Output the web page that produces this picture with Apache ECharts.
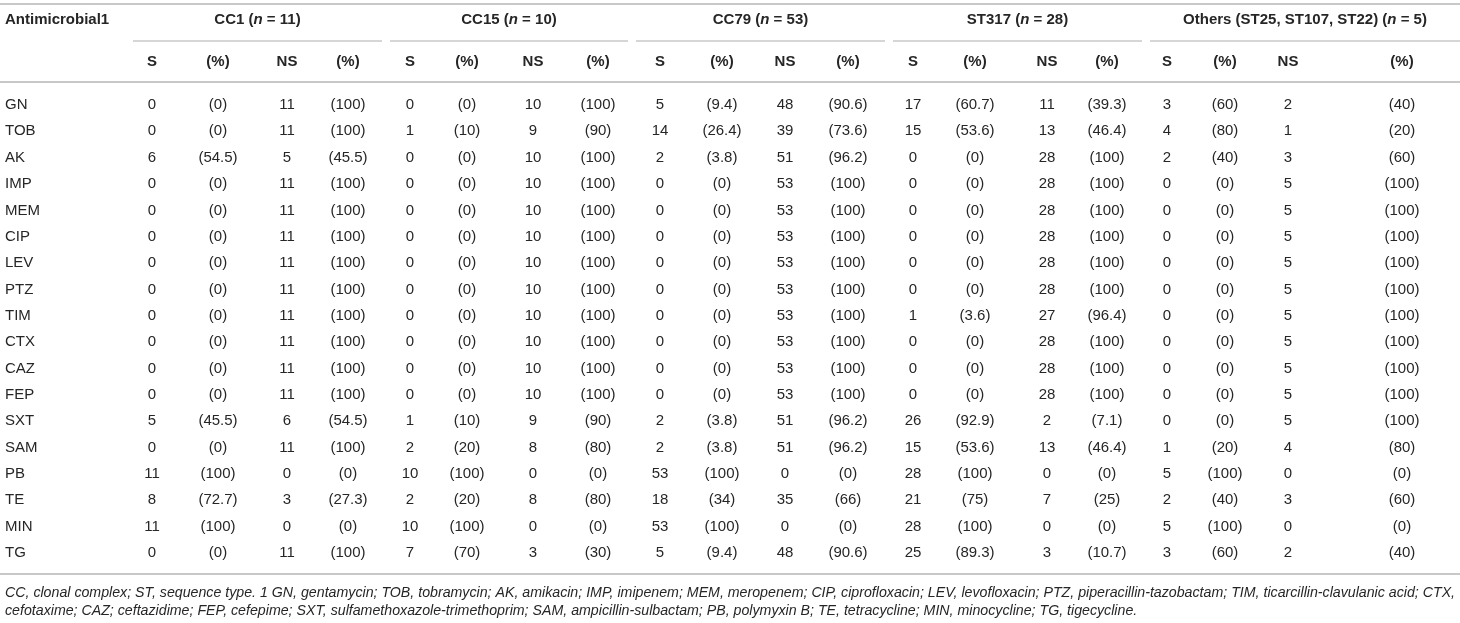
<!DOCTYPE html>
<html><head><meta charset="utf-8">
<script src="https://cdn.jsdelivr.net/npm/echarts@6/dist/echarts.min.js"></script>
<style>html,body{margin:0;padding:0;background:#fff}#c{width:1460px;height:623px}</style>
</head><body><div id="c"></div>
<script>
// ---------- DATA ----------
const antimicrobials = ['GN','TOB','AK','IMP','MEM','CIP','LEV','PTZ','TIM','CTX','CAZ','FEP','SXT','SAM','PB','TE','MIN','TG'];
const groupNames = ['CC1','CC15','CC79','ST317','Others (ST25, ST107, ST22)'];
const groupN = [11, 10, 53, 28, 5];
const subHeaders = ['S','(%)','NS','(%)'];
const firstHeader = 'Antimicrobial1';

const cc1S     = [0,0,6,0,0,0,0,0,0,0,0,0,5,0,11,8,11,0];
const cc1SPct  = ['0','0','54.5','0','0','0','0','0','0','0','0','0','45.5','0','100','72.7','100','0'];
const cc1NS    = [11,11,5,11,11,11,11,11,11,11,11,11,6,11,0,3,0,11];
const cc1NSPct = ['100','100','45.5','100','100','100','100','100','100','100','100','100','54.5','100','0','27.3','0','100'];

const cc15S     = [0,1,0,0,0,0,0,0,0,0,0,0,1,2,10,2,10,7];
const cc15SPct  = ['0','10','0','0','0','0','0','0','0','0','0','0','10','20','100','20','100','70'];
const cc15NS    = [10,9,10,10,10,10,10,10,10,10,10,10,9,8,0,8,0,3];
const cc15NSPct = ['100','90','100','100','100','100','100','100','100','100','100','100','90','80','0','80','0','30'];

const cc79S     = [5,14,2,0,0,0,0,0,0,0,0,0,2,2,53,18,53,5];
const cc79SPct  = ['9.4','26.4','3.8','0','0','0','0','0','0','0','0','0','3.8','3.8','100','34','100','9.4'];
const cc79NS    = [48,39,51,53,53,53,53,53,53,53,53,53,51,51,0,35,0,48];
const cc79NSPct = ['90.6','73.6','96.2','100','100','100','100','100','100','100','100','100','96.2','96.2','0','66','0','90.6'];

const st317S     = [17,15,0,0,0,0,0,0,1,0,0,0,26,15,28,21,28,25];
const st317SPct  = ['60.7','53.6','0','0','0','0','0','0','3.6','0','0','0','92.9','53.6','100','75','100','89.3'];
const st317NS    = [11,13,28,28,28,28,28,28,27,28,28,28,2,13,0,7,0,3];
const st317NSPct = ['39.3','46.4','100','100','100','100','100','100','96.4','100','100','100','7.1','46.4','0','25','0','10.7'];

const othersS     = [3,4,2,0,0,0,0,0,0,0,0,0,0,1,5,2,5,3];
const othersSPct  = ['60','80','40','0','0','0','0','0','0','0','0','0','0','20','100','40','100','60'];
const othersNS    = [2,1,3,5,5,5,5,5,5,5,5,5,5,4,0,3,0,2];
const othersNSPct = ['40','20','60','100','100','100','100','100','100','100','100','100','100','80','0','60','0','40'];

const footnoteLines = [
  'CC, clonal complex; ST, sequence type. 1 GN, gentamycin; TOB, tobramycin; AK, amikacin; IMP, imipenem; MEM, meropenem; CIP, ciprofloxacin; LEV, levofloxacin; PTZ, piperacillin-tazobactam; TIM, ticarcillin-clavulanic acid; CTX,',
  'cefotaxime; CAZ; ceftazidime; FEP, cefepime; SXT, sulfamethoxazole-trimethoprim; SAM, ampicillin-sulbactam; PB, polymyxin B; TE, tetracycline; MIN, minocycline; TG, tigecycline.'
];

// ---------- LAYOUT (positions / styles) ----------
const L = {
  W: 1460, H: 623,
  labelX: 5,
  colX: [152,218,287,348, 410,467,533,598, 660,722,785,848, 913,975,1047,1107, 1167,1225,1288,1402],
  groupSpan: [[133,382],[390,628],[636,885],[893,1142],[1150,1460]],
  headY1: 20, headY2: 62, groupLineY: 41,
  topLineY: 4, headLineY: 82, bottomLineY: 574,
  rowY0: 105, rowH: 26.35,
  footY: [593, 611],
  font: "'Liberation Sans', Arial, Helvetica, sans-serif",
  fontSize: 15, footSize: 14.2,
  text: '#262626', rule: '#c8c8c8'
};

const groupCols = [
  [cc1S, cc1SPct, cc1NS, cc1NSPct],
  [cc15S, cc15SPct, cc15NS, cc15NSPct],
  [cc79S, cc79SPct, cc79NS, cc79NSPct],
  [st317S, st317SPct, st317NS, st317NSPct],
  [othersS, othersSPct, othersNS, othersNSPct]
];

const cells = [];
antimicrobials.forEach((a, r) => {
  const y = L.rowY0 + r * L.rowH;
  cells.push([L.labelX, y, a, 'label']);
  groupCols.forEach((cols, g) => {
    cols.forEach((arr, k) => {
      const v = arr[r];
      const t = (k % 2 === 1) ? '(' + v + ')' : String(v);
      cells.push([L.colX[g * 4 + k], y, t, 'cell']);
    });
  });
});
const headers = [];
headers.push([L.labelX, L.headY1, firstHeader, 'hleft']);
groupNames.forEach((n, g) => {
  const cx = (L.groupSpan[g][0] + L.groupSpan[g][1]) / 2;
  headers.push([cx, L.headY1, '{b|' + n + ' (}{i|n}{b| = ' + groupN[g] + ')}', 'hrich']);
  subHeaders.forEach((s, k) => headers.push([L.colX[g * 4 + k], L.headY2, s, 'hcell']));
});
const rules = [
  [0, L.W, L.topLineY, 2],
  [0, L.W, L.headLineY, 2],
  [0, L.W, L.bottomLineY, 2]
];
L.groupSpan.forEach(s => rules.push([s[0], s[1], L.groupLineY, 1.5]));
const foot = footnoteLines.map((t, i) => [L.labelX, L.footY[i], t]);

const chart = echarts.init(document.getElementById('c'), null, {renderer: 'canvas'});

function textItem(api, p, text, align, extra) {
  return {
    type: 'text',
    style: Object.assign({
      x: p[0], y: p[1], text: text,
      textAlign: align, textVerticalAlign: 'middle',
      fontFamily: L.font, fontSize: L.fontSize, fill: L.text
    }, extra || {})
  };
}

chart.setOption({
  animation: false,
  grid: {left: 0, right: 0, top: 0, bottom: 0, containLabel: false},
  xAxis: {type: 'value', min: 0, max: L.W, show: false},
  yAxis: {type: 'value', min: 0, max: L.H, inverse: true, show: false},
  series: [
    {
      type: 'custom', silent: true, clip: false,
      data: rules,
      renderItem: (params, api) => {
        const a = api.coord([api.value(0), api.value(2)]);
        const b = api.coord([api.value(1), api.value(2)]);
        return {type: 'line', shape: {x1: a[0], y1: a[1], x2: b[0], y2: b[1]},
                style: {stroke: L.rule, lineWidth: api.value(3)}};
      }
    },
    {
      type: 'custom', silent: true, clip: false,
      data: headers,
      dimensions: ['x','y','t','k'],
      renderItem: (params, api) => {
        const d = headers[params.dataIndex];
        const p = api.coord([d[0], d[1]]);
        if (d[3] === 'hleft') return textItem(api, p, d[2], 'left', {fontWeight: 'bold'});
        if (d[3] === 'hcell') return textItem(api, p, d[2], 'center', {fontWeight: 'bold'});
        return textItem(api, p, d[2], 'center', {
          rich: {
            b: {fontFamily: L.font, fontSize: L.fontSize, fontWeight: 'bold', fill: L.text},
            i: {fontFamily: L.font, fontSize: L.fontSize, fontWeight: 'bold', fontStyle: 'italic', fill: L.text}
          }
        });
      }
    },
    {
      type: 'custom', silent: true, clip: false,
      data: cells,
      dimensions: ['x','y','t','k'],
      renderItem: (params, api) => {
        const d = cells[params.dataIndex];
        const p = api.coord([d[0], d[1]]);
        return textItem(api, p, d[2], d[3] === 'label' ? 'left' : 'center');
      }
    },
    {
      type: 'custom', silent: true, clip: false,
      data: foot,
      dimensions: ['x','y','t'],
      renderItem: (params, api) => {
        const d = foot[params.dataIndex];
        const p = api.coord([d[0], d[1]]);
        return textItem(api, p, d[2], 'left', {fontStyle: 'italic', fontSize: L.footSize});
      }
    }
  ]
});
</script>
</body></html>
